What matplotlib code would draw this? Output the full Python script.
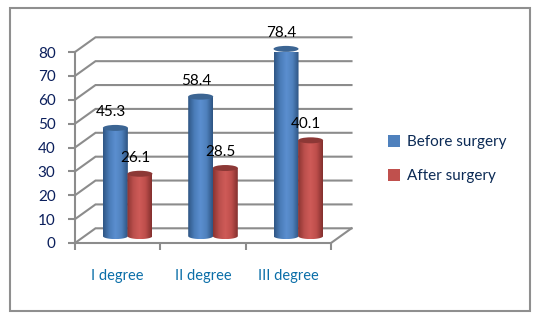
import numpy as np
import matplotlib
matplotlib.use('Agg')
import matplotlib.pyplot as plt
from matplotlib.colors import LinearSegmentedColormap
from matplotlib.patches import Ellipse, Patch, PathPatch, Rectangle
from matplotlib.path import Path

categories = ['I degree', 'II degree', 'III degree']
before = [45.3, 58.4, 78.4]
after = [26.1, 28.5, 40.1]
series_names = ['Before surgery', 'After surgery']
yticks = [0, 10, 20, 30, 40, 50, 60, 70, 80]

W, H = 549, 321
plt.rcParams['font.family'] = ['Lato', 'DejaVu Sans']

fig = plt.figure(figsize=(W / 100, H / 100), dpi=100, facecolor='white')
ax = fig.add_axes([75 / W, (H - 243) / H, 256 / W, 191 / H])

GREY = '#8c8c8c'
px_x = 3 / 256      # data units per pixel
px_y = 80 / 191
depth_x = 20.5 * px_x
depth_y = 14.7 * px_y

# outer frame
fig.add_artist(Rectangle((10 / W, (H - 311) / H), 520 / W, 303 / H, transform=fig.transFigure,
                         fill=False, ec='#8f8f8f', lw=1.5))

# back wall and side lines
for v in yticks:
    ax.plot([0, depth_x, 3 + depth_x], [v, v + depth_y, v + depth_y], color=GREY, lw=1.5,
            clip_on=False, zorder=1, solid_joinstyle='miter')
ax.plot([3, 3 + depth_x], [0, depth_y], color=GREY, lw=1.5, clip_on=False, zorder=1)

blue_map = LinearSegmentedColormap.from_list('b', ['#2f5685', '#4a7cb8', '#5b8fd0', '#4f81bd', '#2e5482'])
red_map = LinearSegmentedColormap.from_list('r', ['#8a3432', '#bb4f4c', '#cf5b58', '#bd4e4b', '#83302e'])
tops = {0: ('#3c6593', '#4a7cb8'), 1: ('#8c3836', '#a34442')}


def cylinder(xc, value, cmap, top_color):
    half = 12.5 * px_x
    r = 3 * px_y
    base = 2.9
    t = np.linspace(np.pi, 2 * np.pi, 30)
    xs = np.r_[xc + half * np.cos(t), xc + half, xc - half]
    ys = np.r_[base + r * np.sin(t), base + value, base + value]
    grad = np.linspace(0, 1, 64).reshape(1, -1)
    im = ax.imshow(grad, cmap=cmap, extent=[xc - half, xc + half, base - r, base + value],
                   aspect='auto', zorder=3, interpolation='bilinear')
    clip = PathPatch(Path(np.c_[xs, ys]), transform=ax.transData, visible=False)
    ax.add_patch(clip)
    im.set_clip_path(clip)
    ax.add_patch(Ellipse((xc, base + value), 2 * half, 2 * r, fc=top_color, ec='none', zorder=4,
                         clip_on=False))


for i in range(len(categories)):
    center = i + 0.5 + 10 * px_x
    cylinder(center - 12.3 * px_x, before[i], blue_map, tops[0][0])
    cylinder(center + 12.3 * px_x, after[i], red_map, tops[1][0])
    ax.annotate(str(before[i]), (center - 12.3 * px_x, before[i] + 2.9), xytext=(-3.5, 11.5),
                textcoords='offset points', ha='center', va='center', fontsize=11,
                color='black', zorder=6, annotation_clip=False)
    ax.annotate(str(after[i]), (center + 12.3 * px_x, after[i] + 2.9), xytext=(-3.5, 11.5),
                textcoords='offset points', ha='center', va='center', fontsize=11,
                color='black', zorder=6, annotation_clip=False)

ax.set_xlim(0, 3)
ax.set_ylim(0, 80)
ax.patch.set_alpha(0)
for s in ['top', 'right']:
    ax.spines[s].set_visible(False)
for s in ['left', 'bottom']:
    ax.spines[s].set_color(GREY)
    ax.spines[s].set_linewidth(1.5)
ax.set_xticks([0, 1, 2, 3])
ax.set_xticklabels([])
ax.set_xticks([0.5, 1.5, 2.5], minor=True)
ax.set_xticklabels(categories, minor=True, fontsize=10.5, color='#0a6ea8')
ax.tick_params(axis='x', which='minor', length=0, pad=19)
ax.tick_params(axis='x', which='major', length=5, width=1.5, color=GREY)
ax.set_yticks(yticks)
ax.tick_params(axis='y', length=5, width=1.5, color=GREY, pad=9, labelsize=11, labelcolor='#0b1f5c')

handles = [Patch(fc='#4f81bd', ec='none'), Patch(fc='#c0504d', ec='none')]
fig.legend(handles, series_names, loc='center left', bbox_to_anchor=(388 / W, (H - 159) / H),
           frameon=False, fontsize=11, handlelength=0.8, handleheight=0.8, handletextpad=0.45,
           labelspacing=1.31, labelcolor='#0b2a55', borderpad=0, borderaxespad=0)

fig.savefig('out.png', dpi=100)
